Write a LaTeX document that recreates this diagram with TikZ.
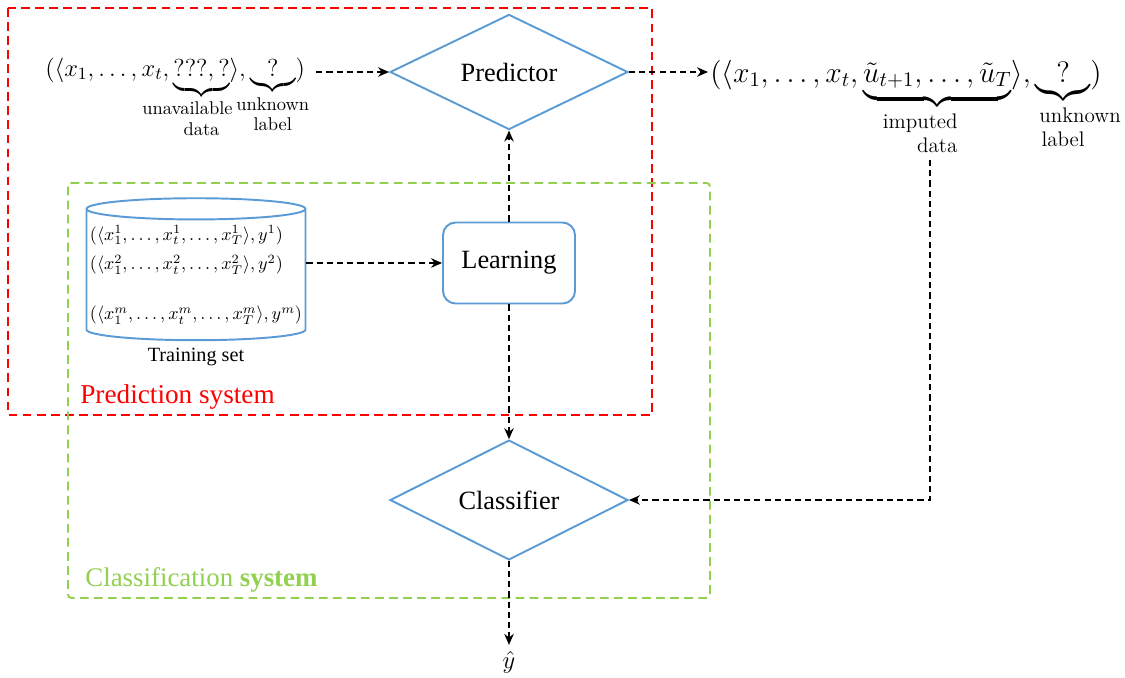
\RequirePackage{fix-cm}
\documentclass[tikz,border=0pt]{standalone}
\usepackage{amsmath,mathtools}
\usepackage{fontspec}
\setmainfont{Liberation Serif}
\newfontfamily\lmfont{Latin Modern Roman}
\usetikzlibrary{shapes.geometric,arrows.meta,positioning}

\definecolor{boxblue}{RGB}{91,155,213}
\definecolor{predred}{RGB}{255,0,0}
\definecolor{clsgreen}{RGB}{146,208,80}

% two-line label under a brace, not widening the formula
% #1 size, #2 leading, #3 raise, #4 shift of first line, #5 first line, #6 second line
\newcommand{\bracelabel}[6]{\mathclap{\text{\lmfont\fontsize{#1}{#2}\selectfont\raisebox{#3}{\begin{tabular}[t]{@{}c@{}}\makebox[0pt]{\kern#4\relax #5}\\\makebox[0pt]{#6}\end{tabular}}}}}

\tikzset{
    flow/.style={line width=0.8pt,dash pattern=on 3.5pt off 2.3pt,-{Stealth[length=2.2mm,width=1.9mm]}},
    sysbox/.style={line width=1.1pt,dash pattern=on 5pt off 3pt},
}

\begin{document}
\begin{tikzpicture}[x=0.02cm,y=-0.02cm,
    decision/.style={diamond,draw=boxblue,line width=1.1pt,minimum width=4.76cm,minimum height=2.08cm,inner sep=0pt,font=\fontsize{15}{18}\selectfont},
    process/.style={rectangle,rounded corners=0.25cm,draw=boxblue,line width=1.1pt,minimum width=2.64cm,minimum height=1.62cm,font=\fontsize{15}{18}\selectfont}]
    \useasboundingbox (0,0) rectangle (1125,677);

    % the two systems
    \draw[sysbox,predred] (8,8) rectangle (652,415);
    \node[predred,anchor=base west,inner sep=0pt,font=\fontsize{15.5}{18}\selectfont] (predlbl) at (80,403) {Prediction system};
    \draw[sysbox,clsgreen,rounded corners=2pt] (68,183) rectangle (710,598);
    \node[clsgreen,anchor=base west,inner sep=0pt,font=\fontsize{15.3}{18}\selectfont] (clslbl) at (85,586) {Classification \textbf{system}};

    % blocks
    \node[decision] (pred) at (509,72) {Predictor};
    \node[process] (learn) at (509,263) {Learning};
    \node[decision] (clf) at (509,500) {Classifier};
    \node[cylinder,shape border rotate=90,aspect=0.1,draw=boxblue,line width=1.1pt,minimum width=4.38cm,minimum height=2.84cm,inner sep=0pt,align=left,font=\fontsize{10.3}{17}\selectfont] (tset) at (196,275)
        {$(\langle x_1^1,\ldots,x_t^1,\ldots,x_T^1\rangle,y^1)$\\
         $(\langle x_1^2,\ldots,x_t^2,\ldots,x_T^2\rangle,y^2)$\\[0.4cm]
         $(\langle x_1^m,\ldots,x_t^m,\ldots,x_T^m\rangle,y^m)$};
    \node[font=\fontsize{11.5}{14}\selectfont] (tsetlbl) at (196,357) {Training set};

    % input and output tuples
    \node[anchor=base west,inner ysep=0pt,inner xsep=0.22cm,font=\fontsize{14}{16}\selectfont] (inp) at (34,76)
        {$(\langle x_1,\ldots,x_t,\underbrace{???,?}_{\bracelabel{10.5}{11.5}{0.08cm}{-0.56cm}{unavailable}{data}}\rangle,\underbrace{\;\;?\;\;}_{\bracelabel{10.5}{11.5}{0.08cm}{0cm}{unknown}{label}})$};
    \node[anchor=base west,inner ysep=0pt,inner xsep=0.04cm,font=\fontsize{16.8}{20}\selectfont] (outp) at (708,82)
        {$(\langle x_1,\ldots,x_t,\underbrace{\tilde u_{t+1},\ldots,\tilde u_T}_{\bracelabel{12}{13.5}{0.3cm}{-0.68cm}{imputed}{data}}\rangle,\underbrace{\;\;?\;\;}_{\bracelabel{12}{13.5}{0.3cm}{0.68cm}{unknown}{label}})$};
    \coordinate (impd) at (930,160);
    \node[font=\fontsize{14}{16}\selectfont] (yhat) at (509,662) {$\hat y$};

    % connectors
    \draw[flow] (inp.east |- pred.west) -- (pred.west);
    \draw[flow] (pred.east) -- (outp.west |- pred.east);
    \draw[flow] (tset.east |- learn.west) -- (learn.west);
    \draw[flow] (learn.north) -- (pred.south);
    \draw[flow] (learn.south) -- (clf.north);
    \draw[flow] (clf.south) -- (yhat.north);
    \draw[flow] (impd) |- (clf.east);
\end{tikzpicture}
\end{document}
